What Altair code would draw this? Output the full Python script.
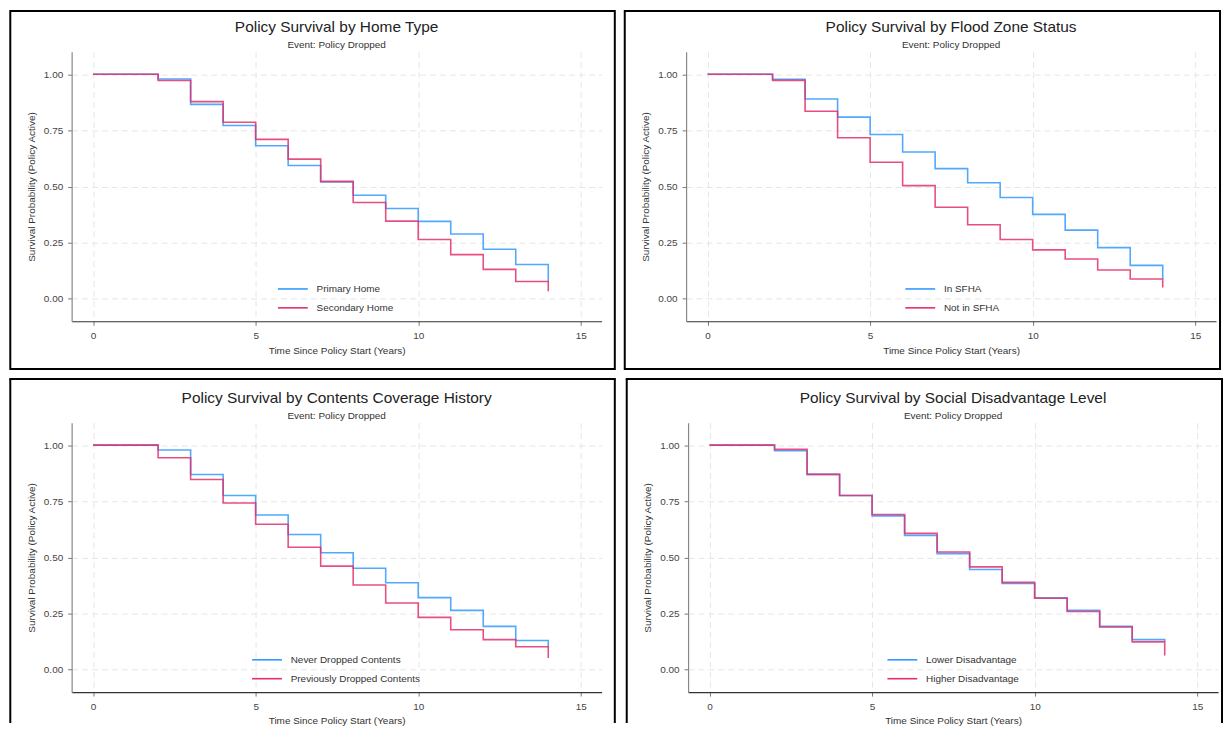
import altair as alt
import pandas as pd

FONT = "Liberation Sans"
BLUE = "#3399FF"
PINK = "#E3306C"

times = [0, 2, 3, 4, 5, 6, 7, 8, 9, 10, 11, 12, 13, 14]

titles = [
    "Policy Survival by Home Type",
    "Policy Survival by Flood Zone Status",
    "Policy Survival by Contents Coverage History",
    "Policy Survival by Social Disadvantage Level",
]
subtitle = "Event: Policy Dropped"
x_title = "Time Since Policy Start (Years)"
y_title = "Survival Probability (Policy Active)"
x_ticks = [0, 5, 10, 15]
y_ticks = [0.0, 0.25, 0.5, 0.75, 1.0]

home_groups = ["Primary Home", "Secondary Home"]
home_primary = [1.0, 0.979, 0.866, 0.772, 0.682, 0.594, 0.520, 0.461, 0.402, 0.345, 0.289, 0.221, 0.153, 0.077]
home_secondary = [1.0, 0.972, 0.878, 0.786, 0.710, 0.622, 0.523, 0.429, 0.346, 0.264, 0.197, 0.131, 0.077, 0.034]

flood_groups = ["In SFHA", "Not in SFHA"]
flood_in = [1.0, 0.978, 0.890, 0.809, 0.732, 0.654, 0.580, 0.517, 0.451, 0.376, 0.306, 0.228, 0.149, 0.089]
flood_out = [1.0, 0.973, 0.835, 0.717, 0.608, 0.504, 0.408, 0.330, 0.264, 0.218, 0.177, 0.128, 0.088, 0.050]

contents_groups = ["Never Dropped Contents", "Previously Dropped Contents"]
contents_never = [1.0, 0.978, 0.869, 0.776, 0.689, 0.602, 0.521, 0.452, 0.387, 0.321, 0.264, 0.193, 0.130, 0.100]
contents_prev = [1.0, 0.944, 0.847, 0.742, 0.648, 0.545, 0.461, 0.377, 0.297, 0.233, 0.178, 0.134, 0.102, 0.052]

social_groups = ["Lower Disadvantage", "Higher Disadvantage"]
social_lower = [1.0, 0.975, 0.870, 0.776, 0.685, 0.598, 0.517, 0.446, 0.384, 0.320, 0.264, 0.193, 0.134, 0.124]
social_higher = [1.0, 0.981, 0.870, 0.776, 0.691, 0.607, 0.524, 0.458, 0.389, 0.318, 0.259, 0.190, 0.124, 0.063]

legend_x = [209, 222, 183, 202]

W, H = 533, 271
BOX_L = -61.7
BOX_T = [-41, -44]
TITLE_OFFSET = [-40, -43]
BOX_R = [546.3, 537]
BOX_B = 319
SIDE_B = 302


def panel(idx, groups, s1, s2, col, row):
    n = len(times)
    df = pd.DataFrame({
        "t": times * 2,
        "surv": s1 + s2,
        "group": [groups[0]] * n + [groups[1]] * n,
    })
    base = alt.Chart(df)
    enc = dict(
        x=alt.X("t:Q", scale=alt.Scale(domain=[-0.66, 15.64], nice=False, zero=False),
                axis=alt.Axis(values=x_ticks, title=x_title, format="d")),
        y=alt.Y("surv:Q", scale=alt.Scale(domain=[-0.1, 1.1], nice=False, zero=False),
                axis=alt.Axis(values=y_ticks, title=y_title, format=".2f")),
        color=alt.Color("group:N", scale=alt.Scale(domain=groups, range=[BLUE, PINK]),
                        legend=alt.Legend(title=None, orient="none", direction="vertical",
                                          legendX=legend_x[idx], legendY=225,
                                          symbolType="M-1.22,0H1.22", symbolSize=605,
                                          symbolStrokeWidth=1.6, rowPadding=0,
                                          labelOffset=10.3)),
    )
    line_kw = dict(interpolate="step-after", strokeWidth=1.6, strokeOpacity=0.85)
    l1 = base.transform_filter(alt.datum.group == groups[0]).mark_line(**line_kw).encode(**enc)
    l2 = base.transform_filter(alt.datum.group == groups[1]).mark_line(**line_kw).encode(**enc)

    one = alt.Data(values=[{"k": 1}])
    right = BOX_R[col]
    top = BOX_T[row]
    if row == 0:
        frame = [alt.Chart(one).mark_rect(filled=False, stroke="black", strokeWidth=2).encode(
            x=alt.value(BOX_L), x2=alt.value(right), y=alt.value(top), y2=alt.value(BOX_B))]
    else:
        rule_kw = dict(color="black", strokeWidth=2)
        frame = [
            alt.Chart(one).mark_rule(**rule_kw).encode(x=alt.value(BOX_L), y=alt.value(top), y2=alt.value(SIDE_B)),
            alt.Chart(one).mark_rule(**rule_kw).encode(x=alt.value(right), y=alt.value(top), y2=alt.value(SIDE_B)),
            alt.Chart(one).mark_rule(**rule_kw).encode(x=alt.value(BOX_L - 1), x2=alt.value(right + 1), y=alt.value(top)),
        ]
    return alt.layer(*frame, l1, l2).properties(
        width=W, height=H,
        title=alt.TitleParams(text=titles[idx], subtitle=subtitle, offset=TITLE_OFFSET[row]),
    )


p1 = panel(0, home_groups, home_primary, home_secondary, 0, 0)
p2 = panel(1, flood_groups, flood_in, flood_out, 1, 0)
p3 = panel(2, contents_groups, contents_never, contents_prev, 0, 1)
p4 = panel(3, social_groups, social_lower, social_higher, 1, 1)

top_row = alt.hconcat(p1, p2, spacing=7).resolve_scale(color="independent")
bottom_row = alt.hconcat(p3, p4, spacing=7).resolve_scale(color="independent")

chart = (
    alt.vconcat(top_row, bottom_row, spacing=8)
    .resolve_scale(color="independent")
    .properties(padding=0, background="white")
    .configure_view(stroke=None)
    .configure_axis(
        labelFont=FONT, titleFont=FONT, labelFontSize=10, titleFontSize=10,
        labelColor="#444", titleColor="#333", titleFontWeight="normal",
        grid=True, gridDash=[6, 4], gridColor="#e6e6e6", gridWidth=1,
        tickColor="#777", tickSize=4, domainColor="#333", domainWidth=1.2,
        labelPadding=5,
    )
    .configure_axisY(domainColor="#888", titlePadding=7)
    .configure_axisX(titlePadding=5)
    .configure_title(
        font=FONT, subtitleFont=FONT, fontSize=15.5, subtitleFontSize=10,
        fontWeight="normal", color="#222", subtitleColor="#333",
        anchor="middle", frame="group", subtitlePadding=4,
    )
    .configure_legend(labelFont=FONT, labelFontSize=10, labelColor="#333", padding=0)
)

chart.save("out.html", embed_options={"renderer": "svg", "actions": False})
